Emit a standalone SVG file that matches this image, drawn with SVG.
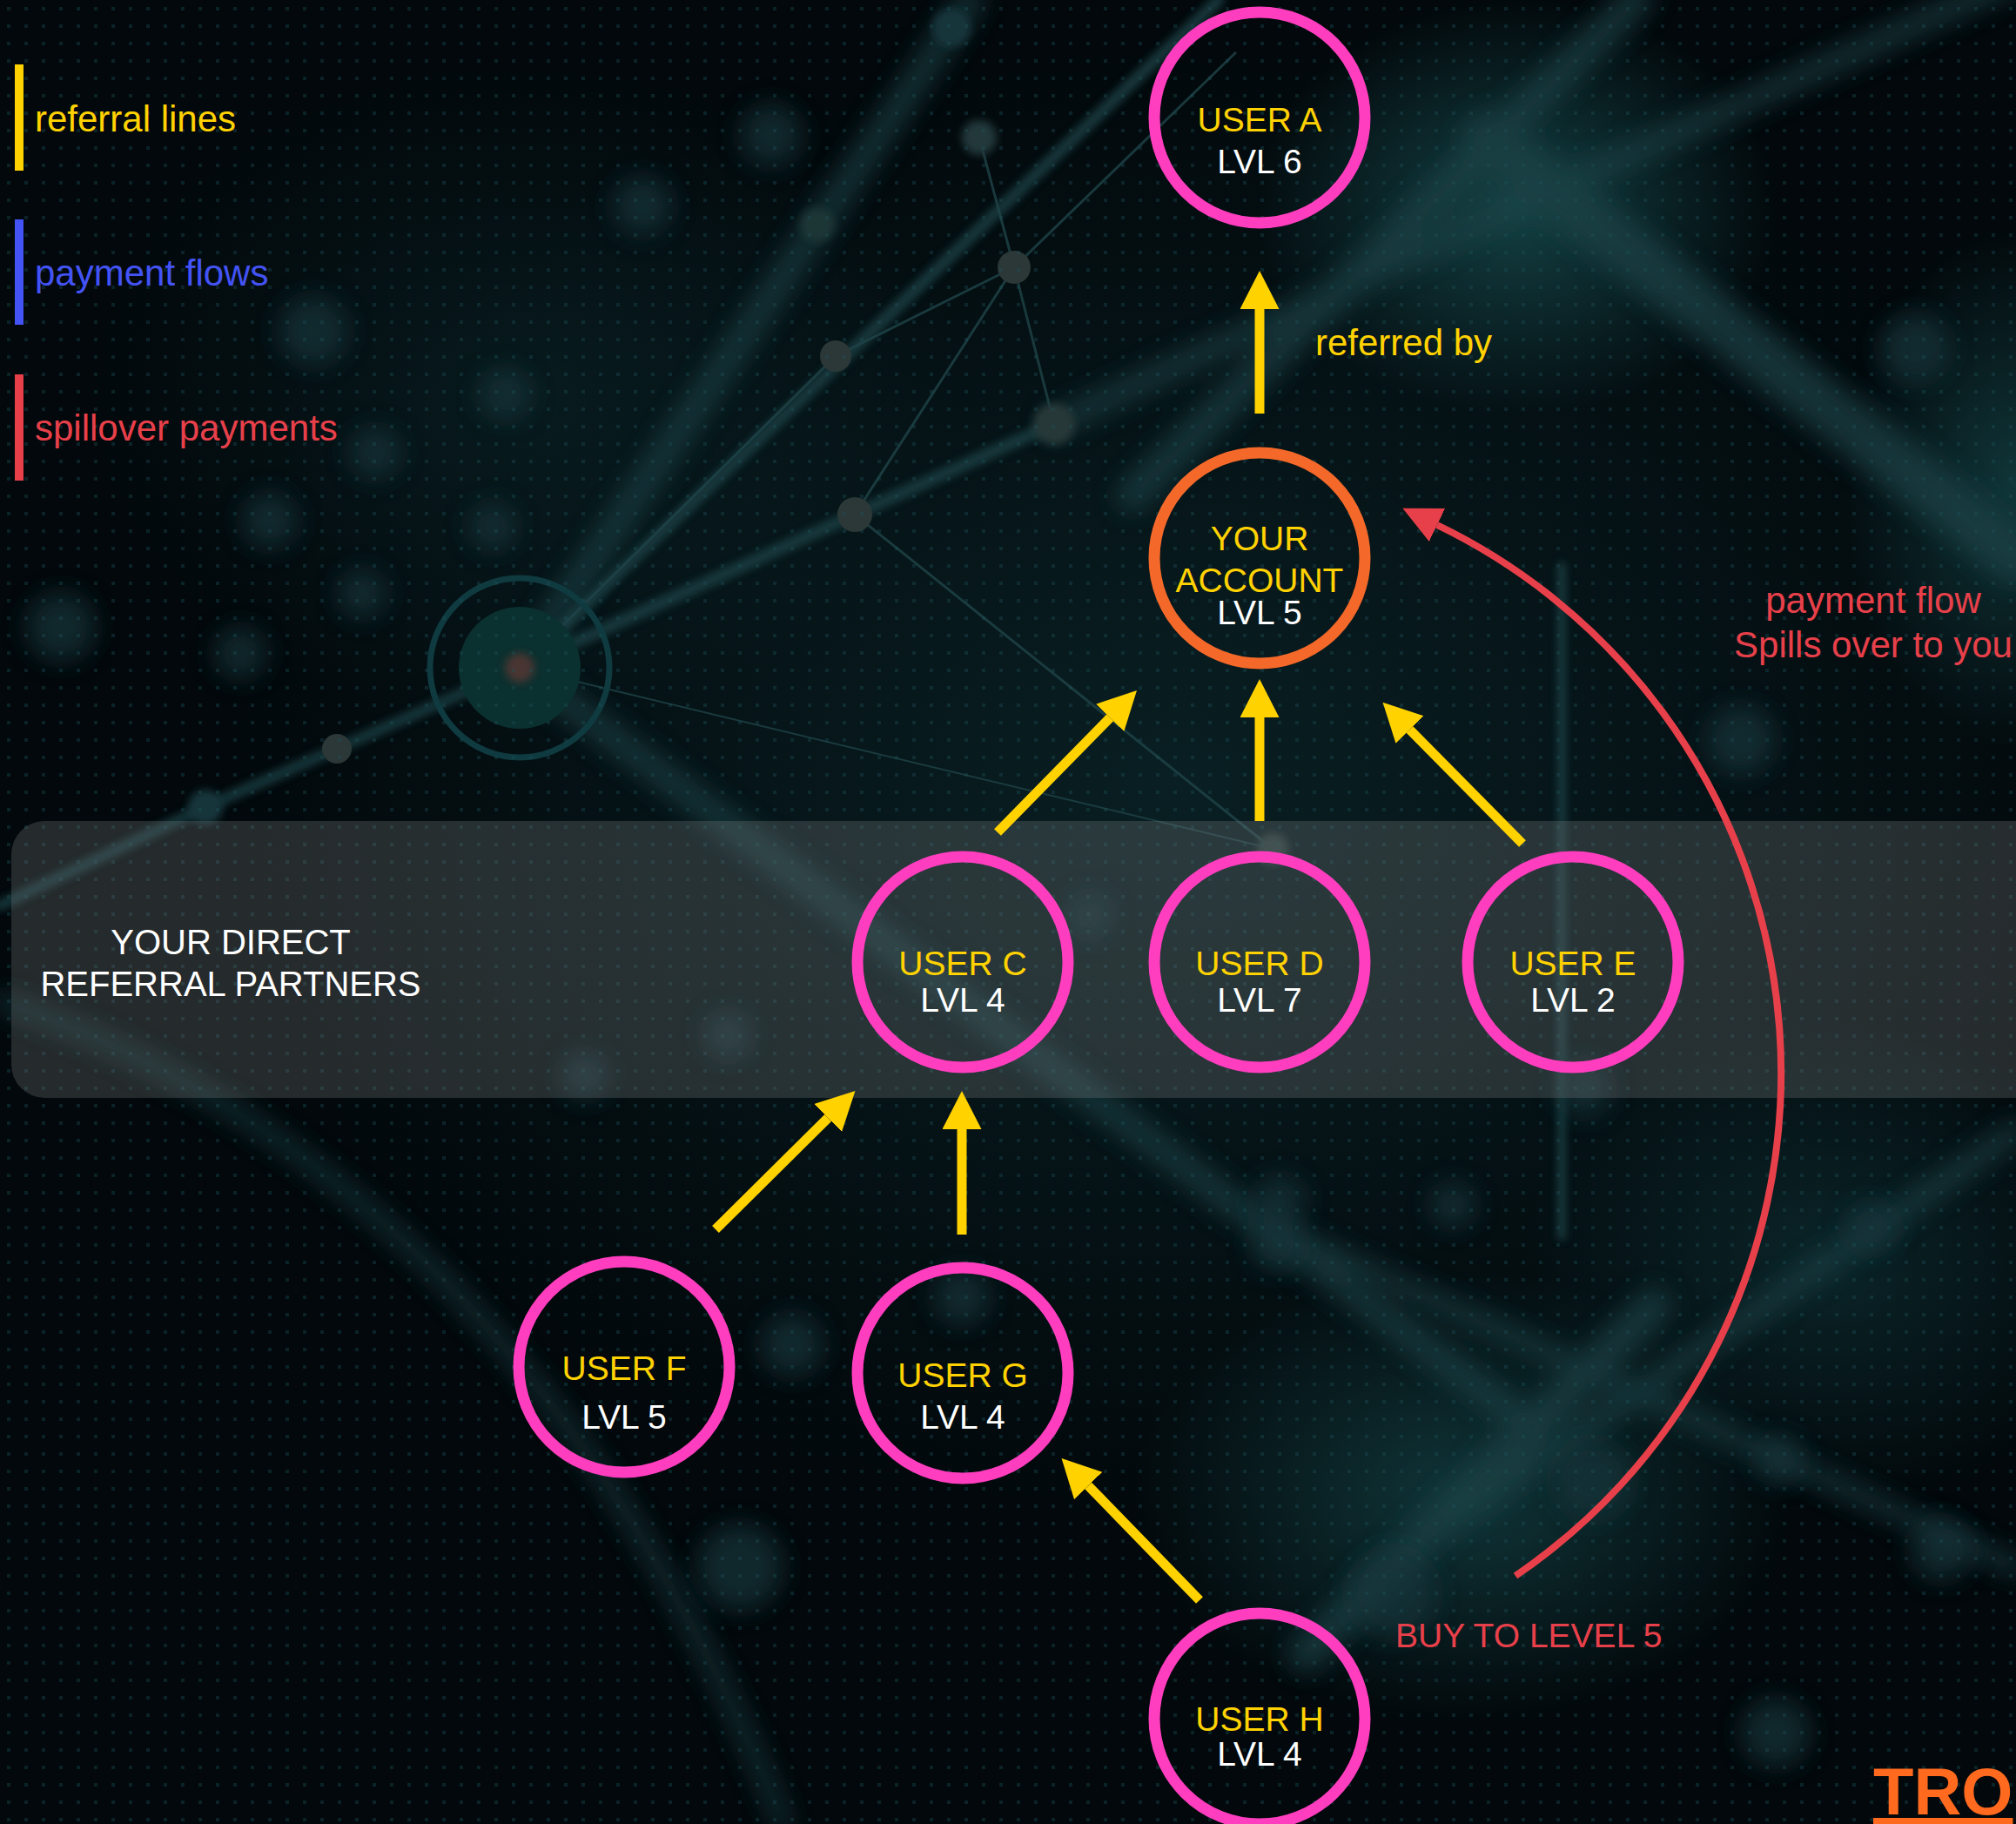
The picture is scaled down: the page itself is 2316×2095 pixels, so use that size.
<svg xmlns="http://www.w3.org/2000/svg" width="2316" height="2095" viewBox="0 0 2316 2095">
<defs>
<style>
.t{font-family:"Liberation Sans",Arial,Helvetica,sans-serif}
.ring{fill:none;stroke-width:13}
.pink{stroke:#FF3DBF}
.orange{stroke:#F4692A}
.name{fill:#FFD200;font-size:39px;text-anchor:middle}
.lvl{fill:#FFFFFF;font-size:39px;text-anchor:middle}
.ref{stroke:#FFD200;stroke-width:11;fill:none;marker-end:url(#ah)}
.spill{stroke:#E8404A;stroke-width:8;fill:none;marker-end:url(#rh)}
.beam{stroke:#1a4347;fill:none;stroke-linecap:round}
.net{stroke:#1f4448;stroke-width:3;fill:none}
.bokeh{fill:#14363b}
</style>
<marker id="ah" markerUnits="userSpaceOnUse" markerWidth="46" markerHeight="46" viewBox="0 0 46 46" refX="0" refY="22.5" orient="auto">
<path d="M0,0 L44,22.5 L0,45 Z" fill="#FFD200"/>
</marker>
<marker id="rh" markerUnits="userSpaceOnUse" markerWidth="46" markerHeight="46" viewBox="0 0 46 46" refX="0" refY="21" orient="auto">
<path d="M0,0 L44,21 L0,42 Z" fill="#E8404A"/>
</marker>
<radialGradient id="haze"><stop offset="0" stop-color="#0c282c" stop-opacity="0.9"/><stop offset="1" stop-color="#0c282c" stop-opacity="0"/></radialGradient>
<radialGradient id="glow"><stop offset="0" stop-color="#154447" stop-opacity="0.95"/><stop offset="1" stop-color="#154447" stop-opacity="0"/></radialGradient>
<filter id="blurM" x="-50%" y="-50%" width="200%" height="200%"><feGaussianBlur stdDeviation="14"/></filter>
<filter id="blurS" x="-50%" y="-50%" width="200%" height="200%"><feGaussianBlur stdDeviation="5"/></filter>
<pattern id="dots" width="20" height="20" patternUnits="userSpaceOnUse"><rect x="8" y="8" width="4" height="4" fill="#1d525a"/></pattern>
</defs>

<g id="background">
<rect x="0" y="0" width="2316" height="2095" fill="#02080b"/>
<ellipse cx="1350" cy="900" rx="1100" ry="850" fill="url(#haze)" opacity="0.8"/>
<ellipse cx="1743" cy="236" rx="300" ry="240" fill="url(#glow)"/>
<ellipse cx="2316" cy="560" rx="200" ry="300" fill="url(#glow)" opacity="0.8"/>
<ellipse cx="1680" cy="1720" rx="380" ry="260" fill="url(#glow)" opacity="0.8"/>
<ellipse cx="2100" cy="1450" rx="350" ry="280" fill="url(#haze)"/>
<ellipse cx="600" cy="450" rx="500" ry="380" fill="url(#haze)" opacity="0.6"/>
<g filter="url(#blurM)" opacity="0.7">
<path class="beam" stroke-width="60" d="M1708,160 L2316,640"/>
<path class="beam" stroke-width="36" d="M1880,0 L1300,570"/>
<path class="beam" stroke-width="30" d="M597,767 L1115,0"/>
<path class="beam" stroke-width="26" d="M1211,487 L1743,236 L2316,-24"/>
<path class="beam" stroke-width="30" d="M597,767 L1760,1640"/>
<path class="beam" stroke-width="20" d="M1400,1380 L2316,1800"/>
<path class="beam" stroke-width="24" d="M2316,1300 L1650,1760"/>
<path class="beam" stroke-width="40" d="M1500,1900 L1900,1500"/>
<path class="beam" stroke-width="18" d="M0,1150 Q600,1350 900,2095"/>
</g>
<g filter="url(#blurS)" opacity="0.8">
<path class="beam" stroke-width="14" d="M597,767 L1400,0"/>
<path class="beam" stroke-width="12" d="M597,767 L387,860 L236,927 L0,1040"/>
<path class="beam" stroke-width="10" d="M1794,650 L1794,1420"/>
<path class="beam" stroke-width="14" d="M597,767 L982,591 L1211,487"/>
</g>
<g class="net" opacity="0.8">
<path d="M597,767 L960,409 L1165,307"/>
<path d="M982,591 L1165,307 L1211,487"/>
<path d="M1165,307 L1125,158"/>
<path d="M1165,307 L1420,60"/>
<path d="M982,591 L1462,975"/>
<path d="M597,767 L1462,975" stroke-width="2"/>
</g>
<g filter="url(#blurS)">
<circle cx="1093" cy="32" r="22" class="bokeh"/>
<circle cx="1125" cy="158" r="20" fill="#23393a"/>
<circle cx="939" cy="258" r="20" fill="#1c3435"/>
<circle cx="1211" cy="487" r="24" fill="#273838"/>
<circle cx="236" cy="927" r="20" class="bokeh"/>
<circle cx="1462" cy="975" r="18" fill="#2a3d3e"/>
</g>
<g fill="#2b3837">
<circle cx="1165" cy="307" r="19"/>
<circle cx="960" cy="409" r="18"/>
<circle cx="982" cy="591" r="20"/>
<circle cx="387" cy="860" r="17"/>
</g>
<g filter="url(#blurM)" opacity="0.7">
<circle cx="886" cy="155" r="36" class="bokeh"/>
<circle cx="738" cy="236" r="34" class="bokeh"/>
<circle cx="580" cy="453" r="30" class="bokeh"/>
<circle cx="566" cy="605" r="28" class="bokeh"/>
<circle cx="416" cy="682" r="28" class="bokeh"/>
<circle cx="276" cy="750" r="30" class="bokeh"/>
<circle cx="310" cy="598" r="32" class="bokeh"/>
<circle cx="431" cy="520" r="30" class="bokeh"/>
<circle cx="360" cy="380" r="40" class="bokeh"/>
<circle cx="70" cy="720" r="40" class="bokeh"/>
<circle cx="1252" cy="1052" r="26" class="bokeh"/>
<circle cx="836" cy="1189" r="28" class="bokeh"/>
<circle cx="672" cy="1235" r="28" class="bokeh"/>
<circle cx="1669" cy="1384" r="26" class="bokeh"/>
<circle cx="1467" cy="1430" r="30" class="bokeh"/>
<circle cx="2149" cy="1410" r="30" class="bokeh"/>
<circle cx="2044" cy="1676" r="28" class="bokeh"/>
<circle cx="1470" cy="1380" r="30" class="bokeh"/>
<circle cx="1105" cy="1490" r="32" class="bokeh"/>
<circle cx="910" cy="1545" r="36" class="bokeh"/>
<circle cx="850" cy="1800" r="50" class="bokeh"/>
<circle cx="1600" cy="1830" r="50" class="bokeh"/>
<circle cx="1830" cy="1700" r="45" class="bokeh"/>
<circle cx="2040" cy="1990" r="40" class="bokeh"/>
<circle cx="2230" cy="1780" r="36" class="bokeh"/>
<circle cx="1820" cy="1250" r="32" class="bokeh"/>
<circle cx="2200" cy="400" r="40" class="bokeh"/>
<circle cx="2000" cy="850" r="40" class="bokeh"/>
</g>
<g id="hub">
<circle cx="597" cy="767" r="103" fill="none" stroke="#0e3a40" stroke-width="7"/>
<circle cx="597" cy="767" r="70" fill="#0a302f"/>
<circle cx="597" cy="767" r="17" fill="#4a3530" filter="url(#blurS)"/>
</g>
<rect x="0" y="0" width="2316" height="2095" fill="url(#dots)" opacity="0.35"/>
</g>

<rect id="partners-band" x="13" y="943" width="2400" height="318" rx="38" fill="#808585" fill-opacity="0.28"/>

<g id="legend" class="t" font-size="42">
<rect x="17" y="74" width="10" height="122" fill="#FFD200"/>
<text x="40" y="151" fill="#FFD200">referral lines</text>
<rect x="17" y="252" width="10" height="121" fill="#4353F5"/>
<text x="40" y="328" fill="#4353F5">payment flows</text>
<rect x="17" y="430" width="10" height="122" fill="#E8404A"/>
<text x="40" y="506" fill="#E8404A">spillover payments</text>
</g>

<g id="connectors">
<line class="ref" x1="1447" y1="475" x2="1447" y2="355"/>
<line class="ref" x1="1146" y1="956" x2="1275.2" y2="824.4"/>
<line class="ref" x1="1447" y1="943" x2="1447" y2="824"/>
<line class="ref" x1="1749" y1="969" x2="1619.5" y2="838"/>
<line class="ref" x1="822" y1="1412" x2="951.2" y2="1284"/>
<line class="ref" x1="1105" y1="1418" x2="1105" y2="1297"/>
<line class="ref" x1="1378" y1="1838" x2="1250.2" y2="1706.5"/>
<path class="spill" d="M1741,1810 A699,699 0 0 0 1651,603"/>
</g>

<g id="user-a"><circle class="ring pink" cx="1447" cy="135" r="121"/>
<text class="t name" x="1447" y="151">USER A</text><text class="t lvl" x="1447" y="199">LVL 6</text></g>
<g id="your-account"><circle class="ring orange" cx="1447" cy="641" r="121"/>
<text class="t name" x="1447" y="632">YOUR</text><text class="t name" x="1447" y="680">ACCOUNT</text><text class="t lvl" x="1447" y="717">LVL 5</text></g>
<g id="user-c"><circle class="ring pink" cx="1106" cy="1105" r="121"/>
<text class="t name" x="1106" y="1120">USER C</text><text class="t lvl" x="1106" y="1162">LVL 4</text></g>
<g id="user-d"><circle class="ring pink" cx="1447" cy="1105" r="121"/>
<text class="t name" x="1447" y="1120">USER D</text><text class="t lvl" x="1447" y="1162">LVL 7</text></g>
<g id="user-e"><circle class="ring pink" cx="1807" cy="1105" r="121"/>
<text class="t name" x="1807" y="1120">USER E</text><text class="t lvl" x="1807" y="1162">LVL 2</text></g>
<g id="user-f"><circle class="ring pink" cx="717" cy="1570" r="121"/>
<text class="t name" x="717" y="1585">USER F</text><text class="t lvl" x="717" y="1641">LVL 5</text></g>
<g id="user-g"><circle class="ring pink" cx="1106" cy="1577" r="121"/>
<text class="t name" x="1106" y="1593">USER G</text><text class="t lvl" x="1106" y="1641">LVL 4</text></g>
<g id="user-h"><circle class="ring pink" cx="1447" cy="1974" r="121"/>
<text class="t name" x="1447" y="1988">USER H</text><text class="t lvl" x="1447" y="2028">LVL 4</text></g>

<g id="labels" class="t">
<text x="265" y="1096" font-size="40" fill="#FFFFFF" text-anchor="middle">YOUR DIRECT</text>
<text x="265" y="1144" font-size="40" fill="#FFFFFF" text-anchor="middle">REFERRAL PARTNERS</text>
<text x="1511" y="408" font-size="42" fill="#FFD200">referred by</text>
<text x="2152" y="704" font-size="42" fill="#E8404A" text-anchor="middle">payment flow</text>
<text x="2152" y="755" font-size="42" fill="#E8404A" text-anchor="middle">Spills over to you</text>
<text x="1603" y="1892" font-size="39" fill="#E8404A">BUY TO LEVEL 5</text>
<text x="2152" y="2084" font-size="76" font-weight="bold" fill="#FF6A1F" text-decoration="underline">TRO</text>
</g>
</svg>
